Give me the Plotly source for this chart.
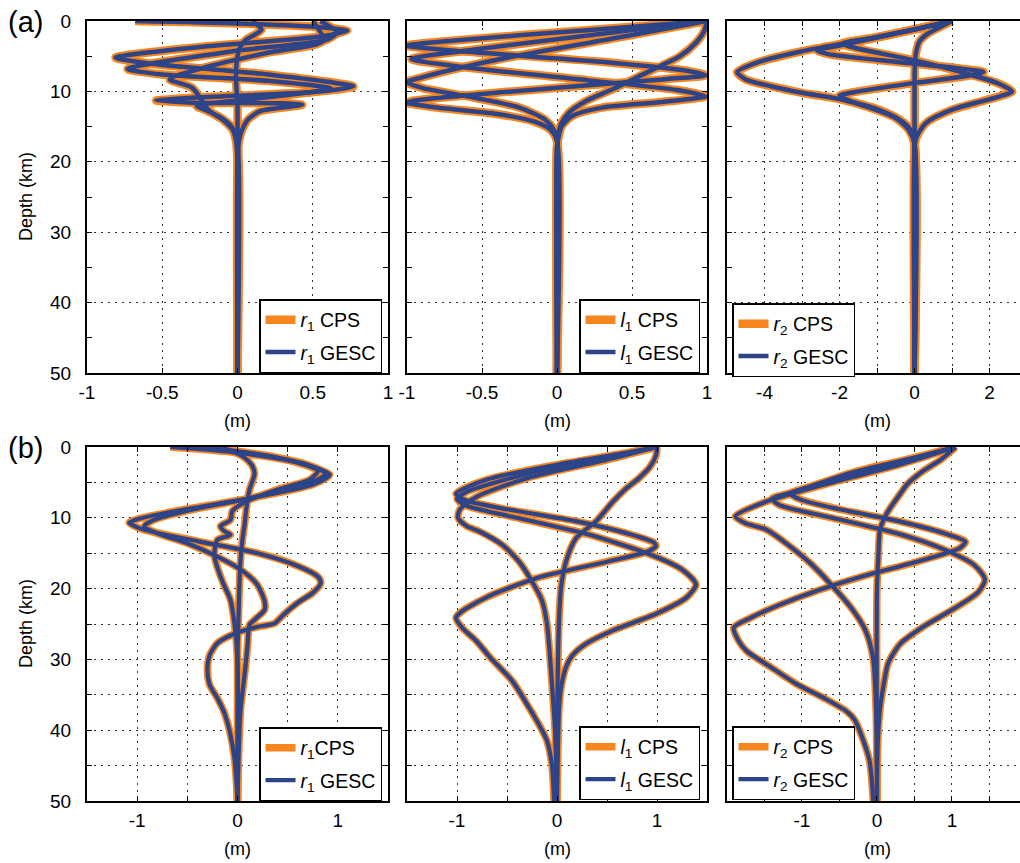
import plotly.graph_objects as go

# ---------------------------------------------------------------------------
# Eigenfunction profiles, (amplitude in m, depth in km), one list per mode.
# Row (a): higher-frequency case, row (b): lower-frequency case.
# ---------------------------------------------------------------------------

# (a) r1
a_r1_mode0 = [(0.10, 0), (0.14, 0.7), (0.16, 1.2), (0.11, 2.0), (0.06, 2.6), (0.02, 3.6), (0.0, 5),
              (-0.01, 8), (0.0, 12), (0.0, 16), (0.0, 20), (0.0, 30), (0.0, 40), (0.0, 50)]
a_r1_mode1 = [(-0.68, 0), (0.0, 0.35), (0.55, 0.9), (0.73, 1.4), (0.55, 2.2), (-0.2, 3.6), (-0.81, 5.2),
              (-0.6, 6.0), (0.2, 7.6), (0.77, 9.3), (0.5, 10.1), (-0.3, 10.9), (-0.54, 11.3), (-0.3, 11.6),
              (0.3, 11.7), (0.43, 11.9), (0.3, 12.3), (0.15, 12.8), (0.07, 14), (0.03, 15.5), (0.01, 17),
              (0.0, 20), (0.0, 50)]
a_r1_mode2 = [(0.55, 0), (0.66, 1.6), (0.6, 2.6), (0.0, 4.2), (-0.73, 6.8), (-0.5, 7.6), (0.2, 8.5),
              (0.62, 9.6), (0.3, 10.6), (-0.27, 12.1), (-0.22, 12.6), (-0.12, 13.6), (-0.04, 15),
              (-0.01, 17), (0.0, 20), (0.0, 50)]
a_r1_mode3 = [(0.5, 0), (0.57, 2.8), (0.2, 4.5), (-0.2, 6.5), (-0.45, 8.3), (-0.3, 9.5), (-0.19, 12.7),
              (-0.1, 14), (-0.03, 15.5), (0.0, 17.5), (0.0, 50)]

# (a) l1
a_l1_mode0 = [(1.0, 0), (0.98, 1.5), (0.93, 3), (0.82, 5), (0.6, 7.3), (0.38, 9.6), (0.2, 11.3),
              (0.08, 13), (0.03, 14.5), (0.01, 16), (0.0, 18), (0.0, 50)]
a_l1_mode1 = [(1.0, 0), (0.2, 1.3), (-0.7, 2.8), (-1.0, 3.5), (-0.7, 4.2), (0.3, 5.8), (0.9, 7.2),
              (0.99, 7.7), (0.7, 8.3), (-0.3, 10.0), (-0.95, 11.3), (-1.0, 11.6), (-0.8, 12.3),
              (-0.4, 13.2), (-0.15, 14.3), (-0.04, 15.5), (0.0, 17), (0.0, 50)]
a_l1_mode2 = [(1.0, 0), (0.3, 1.8), (-0.6, 4.2), (-0.97, 5.4), (-0.6, 6.6), (0.2, 8.4), (0.8, 9.8),
              (0.99, 10.7), (0.7, 11.5), (0.3, 12.3), (0.1, 13.5), (0.03, 15), (0.01, 16.5),
              (0.0, 18), (0.0, 50)]
a_l1_mode3 = [(1.0, 0), (0.5, 2), (-0.4, 5.5), (-0.9, 8.0), (-1.0, 8.7), (-0.9, 9.5), (-0.55, 10.9),
              (-0.25, 12.3), (-0.08, 14), (-0.02, 15.5), (0.0, 17), (0.0, 50)]

# (a) r2
a_r2_mode0 = [(1.0, 0), (0.7, 0.8), (0.35, 1.8), (0.12, 3), (0.04, 4.5), (0.01, 6), (0.0, 8), (0.0, 50)]
a_r2_mode1 = [(1.0, 0), (0.0, 1.2), (-1.5, 2.8), (-3.0, 4.3), (-4.2, 5.9), (-4.73, 7.25), (-4.5, 8.3),
              (-3.8, 9.3), (-3.0, 10.2), (-2.0, 11.1), (-1.2, 12.3), (-0.5, 13.8), (-0.15, 15.5),
              (0.0, 17.5), (0.0, 50)]
a_r2_mode2 = [(1.0, 0), (-0.5, 1.8), (-2.0, 3.5), (-2.6, 4.2), (-2.3, 4.7), (-0.5, 5.8), (1.0, 6.6),
              (1.84, 7.25), (1.5, 7.7), (0.0, 8.8), (-1.5, 10.0), (-2.0, 10.6), (-1.7, 11.4),
              (-1.0, 12.5), (-0.4, 14), (-0.1, 15.5), (0.0, 17.5), (0.0, 50)]
a_r2_mode3 = [(1.0, 0), (-1.0, 2.3), (-1.93, 3.2), (-1.6, 3.8), (0.0, 5.6), (1.2, 7.2), (2.2, 8.8),
              (2.6, 10.0), (2.2, 10.8), (1.0, 12.6), (0.3, 14.5), (0.05, 16.5), (0.0, 18), (0.0, 50)]

# (b) r1
b_r1_mode0 = [(-0.18, 0), (-0.05, 0.6), (0.06, 1.4), (0.14, 2.5), (0.17, 3.7), (0.15, 4.8), (0.12, 6),
              (0.09, 8.5), (0.07, 11), (0.05, 13), (0.03, 16), (0.02, 19), (0.01, 24), (0.0, 30), (0.0, 50)]
b_r1_mode1 = [(-0.35, 0), (0.1, 0.8), (0.55, 2.0), (0.8, 3.4), (0.72, 4.6), (0.4, 6), (0.1, 7.6),
              (-0.05, 9), (-0.07, 10.3), (-0.17, 11.2), (-0.13, 11.9), (-0.07, 12.4), (-0.1, 12.6),
              (-0.2, 13.1), (-0.23, 15.4), (-0.15, 19), (-0.07, 21.6), (-0.03, 25), (0.0, 30), (0.0, 50)]
b_r1_mode2 = [(-0.5, 0), (0.2, 1.0), (0.7, 2.5), (0.88, 3.8), (0.7, 5.2), (0.1, 7.3), (-0.5, 9.0),
              (-0.85, 10.4), (-0.93, 11.2), (-0.8, 12.2), (-0.5, 13.6), (-0.2, 15.5), (0.05, 17.5),
              (0.2, 19.5), (0.27, 21.8), (0.27, 23.0), (0.17, 24.4), (0.12, 25.1), (0.1, 28),
              (0.08, 31), (0.03, 37.2), (0.01, 44), (0.0, 50)]
b_r1_mode3 = [(-0.67, 0), (0.0, 0.8), (0.6, 2.2), (0.92, 3.9), (0.75, 5.3), (0.1, 7.3), (-0.6, 9.0),
              (-1.0, 10.2), (-1.08, 10.7), (-0.95, 11.6), (-0.4, 13.3), (0.2, 15), (0.6, 16.8),
              (0.8, 18.3), (0.83, 19.2), (0.75, 20.6), (0.6, 22), (0.45, 23.8), (0.37, 24.9),
              (0.2, 25.4), (0.0, 26.2), (-0.2, 27.7), (-0.28, 29.5), (-0.3, 31.5), (-0.28, 33.5),
              (-0.2, 35.5), (-0.13, 37.6), (-0.08, 40), (-0.03, 44), (0.0, 50)]

# (b) l1
b_l1_mode0 = [(1.0, 0), (0.99, 1.2), (0.93, 2.8), (0.82, 4.4), (0.68, 6), (0.56, 7.7), (0.39, 10.5),
              (0.19, 12.9), (0.09, 16.2), (0.04, 19.9), (0.02, 24.6), (0.01, 30), (0.0, 40), (0.0, 50)]
b_l1_mode1 = [(1.0, 0), (0.7, 0.8), (0.0, 2.5), (-0.7, 4.6), (-1.01, 6.6), (-0.9, 7.6), (-0.5, 8.8),
              (0.2, 10.5), (0.7, 12.2), (0.97, 13.5), (0.99, 14.0), (0.9, 14.8), (0.5, 16.2),
              (-0.2, 18.5), (-0.7, 21.2), (-0.95, 23.2), (-1.01, 24.1), (-0.95, 25.5), (-0.8, 27.5),
              (-0.67, 29.7), (-0.45, 33), (-0.28, 36.8), (-0.15, 40), (-0.1, 41.5), (-0.05, 45),
              (-0.03, 50)]
b_l1_mode2 = [(1.0, 0), (0.5, 1.5), (-0.3, 3.8), (-0.9, 6.3), (-1.0, 7.3), (-0.9, 8.3), (-0.4, 10),
              (0.3, 12.3), (0.9, 15), (1.25, 17.3), (1.39, 19.4), (1.3, 21.2), (1.0, 23.5),
              (0.56, 25.9), (0.29, 27.8), (0.15, 29.5), (0.09, 31.1), (0.04, 34), (0.02, 37),
              (0.01, 42), (0.0, 50)]
b_l1_mode3 = [(1.0, 0), (0.5, 1.8), (-0.3, 4.4), (-0.8, 7.0), (-0.97, 8.8), (-0.99, 10.0), (-0.9, 11.2),
              (-0.78, 11.9), (-0.55, 13.8), (-0.38, 16.2), (-0.25, 19), (-0.15, 21.7), (-0.1, 25),
              (-0.05, 33.5), (-0.02, 40), (0.0, 50)]

# (b) r2
b_r2_mode0 = [(1.05, 0), (0.85, 1.8), (0.6, 3.5), (0.4, 5.3), (0.31, 6.6), (0.13, 9.4), (0.04, 11.7),
              (0.02, 15), (0.0, 20), (0.0, 50)]
b_r2_mode1 = [(1.05, 0), (0.5, 1.5), (-0.3, 3.5), (-0.9, 5.6), (-1.16, 6.6), (-1.0, 7.5), (-0.5, 8.8),
              (0.3, 10.5), (0.9, 12.2), (1.18, 13.4), (1.1, 14.3), (0.6, 16), (-0.2, 18.3),
              (-0.8, 20.3), (-1.3, 22.3), (-1.7, 24.2), (-1.91, 25.5), (-1.85, 27.3), (-1.74, 28.8),
              (-1.4, 31.2), (-1.07, 33.5), (-0.7, 35.5), (-0.41, 37.3), (-0.3, 38.5), (-0.23, 40.1),
              (-0.1, 44.3), (-0.05, 50)]
b_r2_mode2 = [(1.05, 0), (0.4, 1.8), (-0.5, 4.4), (-1.2, 6.6), (-1.4, 7.3), (-1.3, 8.2), (-0.6, 10),
              (0.3, 12.3), (0.9, 14.5), (1.3, 16.7), (1.44, 18.7), (1.35, 20.5), (1.0, 23),
              (0.6, 25.5), (0.31, 27.8), (0.15, 30.5), (0.09, 33.5), (0.04, 37), (0.01, 42), (0.0, 50)]
b_r2_mode3 = [(1.05, 0), (0.3, 2.5), (-0.7, 5.3), (-1.5, 7.8), (-1.89, 9.8), (-1.75, 10.8),
              (-1.47, 11.7), (-0.89, 16.4), (-0.36, 22.5), (-0.15, 26), (-0.05, 30), (-0.01, 38),
              (0.0, 50)]

# Legend labels per panel
labels_a_r1 = ("<i>r</i><sub>1</sub> CPS", "<i>r</i><sub>1</sub> GESC")
labels_a_l1 = ("<i>l</i><sub>1</sub> CPS", "<i>l</i><sub>1</sub> GESC")
labels_a_r2 = ("<i>r</i><sub>2</sub> CPS", "<i>r</i><sub>2</sub> GESC")
labels_b_r1 = ("<i>r</i><sub>1</sub>CPS", "<i>r</i><sub>1</sub> GESC")
labels_b_l1 = ("<i>l</i><sub>1</sub> CPS", "<i>l</i><sub>1</sub> GESC")
labels_b_r2 = ("<i>r</i><sub>2</sub> CPS", "<i>r</i><sub>2</sub> GESC")

# Axis ticks
depth_ticks = [0, 10, 20, 30, 40, 50]
amp_ticks_half = [-1, -0.5, 0, 0.5, 1]
amp_text_half = ["-1", "-0.5", "0", "0.5", "1"]
amp_ticks_r2a = [-4, -2, 0, 2]
amp_text_r2a = ["-4", "-2", "0", "2"]
amp_ticks_unit = [-1, 0, 1]
amp_text_unit = ["-1", "0", "1"]

# ---------------------------------------------------------------------------
W, H = 1020, 863
ORANGE = "#F7861F"
NAVY = "#2D4489"
FONT = "Liberation Sans, Arial, Helvetica, sans-serif"
GRID = dict(showgrid=True, gridcolor="#333333", gridwidth=1, griddash="1.5px,5.5px")

cols = [(87, 388), (407, 707), (727, 1020)]
rows = [(21, 373), (447, 801)]

panels = [
    # row, col, modes, labels, x-range, tickvals, ticktext, minor x step
    (0, 0, [a_r1_mode0, a_r1_mode1, a_r1_mode2, a_r1_mode3], labels_a_r1, [-1, 1],
     amp_ticks_half, amp_text_half, None),
    (0, 1, [a_l1_mode0, a_l1_mode1, a_l1_mode2, a_l1_mode3], labels_a_l1, [-1, 1],
     amp_ticks_half, amp_text_half, None),
    (0, 2, [a_r2_mode0, a_r2_mode1, a_r2_mode2, a_r2_mode3], labels_a_r2, [-5, 2.81],
     amp_ticks_r2a, amp_text_r2a, 1),
    (1, 0, [b_r1_mode0, b_r1_mode1, b_r1_mode2, b_r1_mode3], labels_b_r1, [-1.5, 1.5],
     amp_ticks_unit, amp_text_unit, 0.5),
    (1, 1, [b_l1_mode0, b_l1_mode1, b_l1_mode2, b_l1_mode3], labels_b_l1, [-1.5, 1.5],
     amp_ticks_unit, amp_text_unit, 0.5),
    (1, 2, [b_r2_mode0, b_r2_mode1, b_r2_mode2, b_r2_mode3], labels_b_r2, [-2, 1.907],
     amp_ticks_unit, amp_text_unit, 0.5),
]

legend_pos = [(259, 299), (579, 299), (732, 303), (259, 727), (579, 726), (732, 726)]

fig = go.Figure()
layout = {}

for k, (r, c, modes, labels, xr, tv, tt, xminor) in enumerate(panels):
    n = k + 1
    xa = "x" if n == 1 else f"x{n}"
    ya = "y" if n == 1 else f"y{n}"
    lg = "legend" if n == 1 else f"legend{n}"
    wide = 8.5 if r == 0 else 7.5
    thin = 4.5 if r == 0 else 4.2

    for style, color, width, label in (("cps", ORANGE, wide, labels[0]),
                                       ("gesc", NAVY, thin, labels[1])):
        for m, mode in enumerate(modes):
            fig.add_trace(go.Scatter(
                x=[p[0] for p in mode], y=[p[1] for p in mode],
                mode="lines", line=dict(color=color, width=width, shape="spline", smoothing=0.7),
                xaxis=xa, yaxis=ya, name=label, legend=lg,
                legendgroup=f"{style}{n}", showlegend=(m == 0), hoverinfo="skip",
            ))

    x0, x1 = cols[c]
    y0, y1 = rows[r]
    edge_col = c == 2
    tick_style = dict(ticks="inside", ticklen=5, tickwidth=1, tickcolor="black")
    xaxis = dict(
        domain=[x0 / W, x1 / W], anchor=ya, range=xr, automargin=False,
        tickmode="array", tickvals=tv, ticktext=tt, **tick_style,
        showline=True, linecolor="black", linewidth=2, mirror="allticks",
        zeroline=False, tickfont=dict(family=FONT, size=19, color="black"),
        ticklabelstandoff=1, **GRID,
    )
    if xminor:
        xaxis["minor"] = dict(tickmode="linear", tick0=0, dtick=xminor, **tick_style, **GRID)
    yaxis = dict(
        domain=[1 - y1 / H, 1 - y0 / H], anchor=xa, range=[50, 0], automargin=False,
        tickmode="array", tickvals=depth_ticks, ticktext=[str(v) for v in depth_ticks],
        **tick_style, showline=True, linecolor="black", linewidth=2,
        mirror=False if edge_col else "allticks",
        showticklabels=(c == 0), zeroline=False,
        tickfont=dict(family=FONT, size=19, color="black"), ticklabelstandoff=10, **GRID,
    )
    minor_y = dict(tickmode="linear", tick0=0, dtick=5, **tick_style)
    if r == 1:
        minor_y.update(GRID)
    else:
        minor_y["showgrid"] = False
    yaxis["minor"] = minor_y

    layout["xaxis" if n == 1 else f"xaxis{n}"] = xaxis
    layout["yaxis" if n == 1 else f"yaxis{n}"] = yaxis

    lx, ly = legend_pos[k]
    layout[lg] = dict(
        x=lx / W, y=1 - ly / H, xanchor="left", yanchor="top", xref="paper", yref="paper",
        bgcolor="white", bordercolor="black", borderwidth=1.5,
        font=dict(family=FONT, size=19.5, color="black"), tracegroupgap=4, itemwidth=30,
    )

annotations = [
    dict(text="(a)", x=6 / W, y=1 - 22 / H, xanchor="left", yanchor="middle",
         font=dict(family=FONT, size=29, color="black")),
    dict(text="(b)", x=6 / W, y=1 - 448 / H, xanchor="left", yanchor="middle",
         font=dict(family=FONT, size=29, color="black")),
]
for (y0, y1), ym in zip(rows, (421, 849)):
    annotations.append(dict(text="Depth (km)", textangle=-90, x=26 / W, y=1 - (y0 + y1) / 2 / H,
                            xanchor="center", yanchor="middle",
                            font=dict(family=FONT, size=18, color="black")))
    for xc in (237.5, 557, 877):
        annotations.append(dict(text="(m)", x=xc / W, y=1 - ym / H, xanchor="center",
                                yanchor="middle", font=dict(family=FONT, size=18, color="black")))
for a in annotations:
    a.update(xref="paper", yref="paper", showarrow=False)

fig.update_layout(
    template="none",
    width=W, height=H, margin=dict(l=0, r=0, t=0, b=0, autoexpand=False),
    paper_bgcolor="white", plot_bgcolor="white",
    annotations=annotations, **layout,
)

fig.write_html("out.html")
